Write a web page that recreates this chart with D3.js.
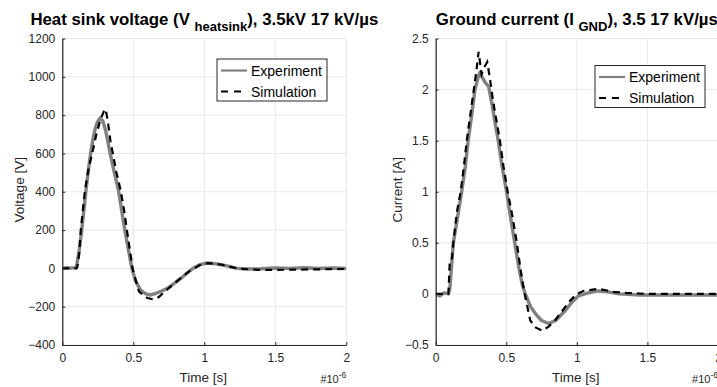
<!DOCTYPE html>
<html>
<head>
<meta charset="utf-8">
<script src="https://cdn.jsdelivr.net/npm/d3@7"></script>
<style>
  body { margin: 0; background: #fff; }
  svg { display: block; font-family: "Liberation Sans", Arial, sans-serif; }
</style>
</head>
<body>
<svg id="chart" width="717" height="387"></svg>
<script>
// time in microseconds (axis shows x 10^-6 s)
const voltExpT = [0, 0.03, 0.06, 0.09, 0.1, 0.12, 0.137, 0.15, 0.167, 0.185, 0.2, 0.215, 0.23, 0.245, 0.265, 0.285, 0.305, 0.32, 0.336, 0.365, 0.395, 0.44, 0.465, 0.49, 0.515, 0.55, 0.585, 0.618, 0.66, 0.7, 0.74, 0.8, 0.85, 0.89, 0.92, 0.97, 1.02, 1.08, 1.16, 1.23, 1.3, 1.4, 1.5, 1.6, 1.7, 1.8, 1.9, 2.0];
const voltExpV = [0, 4, 1, 4, 10, 100, 200, 290, 410, 520, 603, 670, 724, 760, 785, 770, 720, 665, 603, 505, 410, 201, 100, 0, -64, -112, -132, -139, -130, -118, -104, -72, -43, -18, 0, 20, 28, 24, 13, 0, -3, -2, 2, 0, 3, -1, 2, 0];

const voltSimT = [0, 0.1, 0.105, 0.12, 0.13, 0.16, 0.185, 0.211, 0.24, 0.27, 0.29, 0.305, 0.32, 0.34, 0.355, 0.38, 0.41, 0.435, 0.455, 0.475, 0.495, 0.52, 0.54, 0.57, 0.6, 0.64, 0.68, 0.72, 0.8, 0.86, 0.9, 0.93, 0.98, 1.03, 1.12, 1.2, 1.27, 1.4, 1.6, 1.8, 2.0];
const voltSimV = [0, 0, 5, 80, 200, 410, 520, 603, 700, 780, 815, 832, 770, 660, 603, 505, 410, 305, 200, 100, 0, -70, -120, -140, -155, -162, -150, -122, -72, -35, -12, 0, 22, 27, 20, 5, -3, -8, -7, -5, -3];

const curExpT = [0, 0.03, 0.06, 0.09, 0.1, 0.125, 0.155, 0.184, 0.21, 0.23, 0.255, 0.278, 0.3, 0.313, 0.33, 0.35, 0.375, 0.4, 0.42, 0.443, 0.47, 0.502, 0.53, 0.56, 0.59, 0.615, 0.635, 0.67, 0.71, 0.75, 0.8, 0.85, 0.92, 0.96, 1.01, 1.08, 1.15, 1.22, 1.3, 1.45, 1.6, 1.8, 2.0];
const curExpI = [0, -0.02, 0.01, 0, 0.05, 0.5, 0.75, 1.0, 1.25, 1.5, 1.75, 2.0, 2.12, 2.17, 2.12, 2.07, 2.03, 1.85, 1.68, 1.5, 1.25, 1.0, 0.75, 0.5, 0.25, 0.08, 0, -0.12, -0.2, -0.26, -0.29, -0.26, -0.16, -0.09, -0.02, 0.01, 0.03, 0.02, 0, -0.01, -0.01, -0.01, -0.01];

const curSimT = [0, 0.09, 0.1, 0.115, 0.125, 0.15, 0.177, 0.2, 0.22, 0.245, 0.27, 0.29, 0.304, 0.325, 0.345, 0.365, 0.385, 0.405, 0.43, 0.455, 0.48, 0.51, 0.545, 0.575, 0.6, 0.63, 0.67, 0.71, 0.755, 0.8, 0.85, 0.9, 0.95, 1.0, 1.05, 1.15, 1.26, 1.35, 1.5, 2.0];
const curSimI = [0, 0, 0.33, 0.35, 0.5, 0.8, 1.0, 1.25, 1.5, 1.75, 2.0, 2.2, 2.37, 2.15, 2.22, 2.27, 2.1, 1.9, 1.7, 1.5, 1.25, 1.0, 0.75, 0.5, 0.25, 0, -0.26, -0.33, -0.36, -0.32, -0.25, -0.16, -0.07, 0, 0.03, 0.05, 0.02, 0.01, 0, 0];

const xTicks = [0, 0.5, 1, 1.5, 2];
const voltTicks = [-400, -200, 0, 200, 400, 600, 800, 1000, 1200];
const curTicks = [-0.5, 0, 0.5, 1, 1.5, 2, 2.5];

const svg = d3.select("#chart");
const yTop = 38.5, yBot = 345;
const textCol = "#262626";

function drawPanel(p) {
  const x = d3.scaleLinear().domain([0, 2]).range([p.x0, p.x1]);
  const y = d3.scaleLinear().domain(p.yDomain).range([yBot, yTop]);
  const g = svg.append("g");

  // grid
  g.selectAll(".gx").data(xTicks).enter().append("line")
    .attr("x1", d => x(d)).attr("x2", d => x(d))
    .attr("y1", yTop).attr("y2", yBot)
    .attr("stroke", "#e8e8e8").attr("stroke-width", 1);
  g.selectAll(".gy").data(p.yTicks).enter().append("line")
    .attr("x1", p.x0).attr("x2", p.x1)
    .attr("y1", d => y(d)).attr("y2", d => y(d))
    .attr("stroke", "#e8e8e8").attr("stroke-width", 1);

  // curves
  const clipId = "clip" + p.id;
  svg.append("clipPath").attr("id", clipId).append("rect")
    .attr("x", p.x0).attr("y", yTop).attr("width", p.x1 - p.x0).attr("height", yBot - yTop);
  const line = d3.line().x(d => x(d[0])).y(d => y(d[1]));
  const expData = p.expT.map((t, i) => [t, p.expV[i]]);
  const simData = p.simT.map((t, i) => [t, p.simV[i]]);
  g.append("path").datum(expData)
    .attr("clip-path", "url(#" + clipId + ")")
    .attr("d", line).attr("fill", "none")
    .attr("stroke", "#808080").attr("stroke-width", 3.4)
    .attr("stroke-linejoin", "round");
  g.append("path").datum(simData)
    .attr("clip-path", "url(#" + clipId + ")")
    .attr("d", line).attr("fill", "none")
    .attr("stroke", "#000").attr("stroke-width", 2.2)
    .attr("stroke-dasharray", "7,5");

  // axes
  const ax = g.append("g").attr("transform", "translate(0," + yBot + ")")
    .call(d3.axisBottom(x).tickValues(xTicks).tickSizeInner(-3).tickSizeOuter(0).tickPadding(8).tickFormat(d3.format("")));
  const ay = g.append("g").attr("transform", "translate(" + p.x0 + ",0)")
    .call(d3.axisLeft(y).tickValues(p.yTicks).tickSizeInner(-3).tickSizeOuter(0).tickPadding(7).tickFormat(d3.format("")));
  [ax, ay].forEach(a => {
    a.select(".domain").attr("stroke", textCol).attr("stroke-width", 1.2);
    a.selectAll(".tick line").attr("stroke", textCol);
    a.selectAll(".tick text").attr("fill", textCol).style("font-size", "12px")
      .style("font-family", '"Liberation Sans", Arial, sans-serif');
  });

  // labels
  g.append("text").attr("x", (p.x0 + p.x1) / 2 - 1).attr("y", 382)
    .attr("text-anchor", "middle").attr("fill", textCol)
    .style("font-size", "13.5px").text("Time [s]");
  g.append("text")
    .attr("transform", "translate(" + p.ylabX + "," + ((yTop + yBot) / 2 - 2) + ") rotate(-90)")
    .attr("text-anchor", "middle").attr("fill", textCol)
    .style("font-size", "13.5px").text(p.ylabel);
  const ex = g.append("text").attr("x", p.x1).attr("y", 383)
    .attr("text-anchor", "end").attr("fill", textCol).style("font-size", "11px");
  ex.append("tspan").text("#10");
  ex.append("tspan").attr("dy", -5).style("font-size", "8.5px").text("-6");

  // title
  const tt = g.append("text").attr("x", (p.x0 + p.x1) / 2).attr("y", 25)
    .attr("text-anchor", "middle").attr("fill", "#000")
    .style("font-size", "16.8px").style("font-weight", "bold");
  tt.append("tspan").text(p.title[0]);
  tt.append("tspan").attr("dy", 6).style("font-size", "13px").text(p.title[1]);
  tt.append("tspan").attr("dy", -6).text(p.title[2]);

  // legend
  const lg = g.append("g");
  lg.append("rect").attr("x", p.legX).attr("y", p.legY).attr("width", 110).attr("height", 42)
    .attr("fill", "#fff").attr("stroke", textCol).attr("stroke-width", 1);
  const rows = [
    {name: "Experiment", color: "#808080", w: 2.2, dash: null},
    {name: "Simulation", color: "#000", w: 2.2, dash: "7,6"}
  ];
  rows.forEach((r, i) => {
    const cy = p.legY + 11.5 + i * 21;
    lg.append("line").attr("x1", p.legX + 4).attr("x2", p.legX + 30)
      .attr("y1", cy).attr("y2", cy)
      .attr("stroke", r.color).attr("stroke-width", r.w)
      .attr("stroke-dasharray", r.dash);
    lg.append("text").attr("x", p.legX + 34).attr("y", cy + 5)
      .attr("fill", "#000").style("font-size", "14px").text(r.name);
  });
}

drawPanel({
  id: "v", x0: 62.3, x1: 346.3, yDomain: [-400, 1200], yTicks: voltTicks,
  expT: voltExpT, expV: voltExpV, simT: voltSimT, simV: voltSimV,
  ylabel: "Voltage [V]", ylabX: 24,
  title: ["Heat sink voltage (V ", "heatsink", "), 3.5kV 17 kV/\u00b5s"],
  legX: 217, legY: 59
});
drawPanel({
  id: "i", x0: 435.7, x1: 718, yDomain: [-0.5, 2.5], yTicks: curTicks,
  expT: curExpT, expV: curExpI, simT: curSimT, simV: curSimI,
  ylabel: "Current [A]", ylabX: 402,
  title: ["Ground current (I ", "GND", "), 3.5 17 kV/\u00b5s"],
  legX: 595, legY: 65.5
});
</script>
</body>
</html>
